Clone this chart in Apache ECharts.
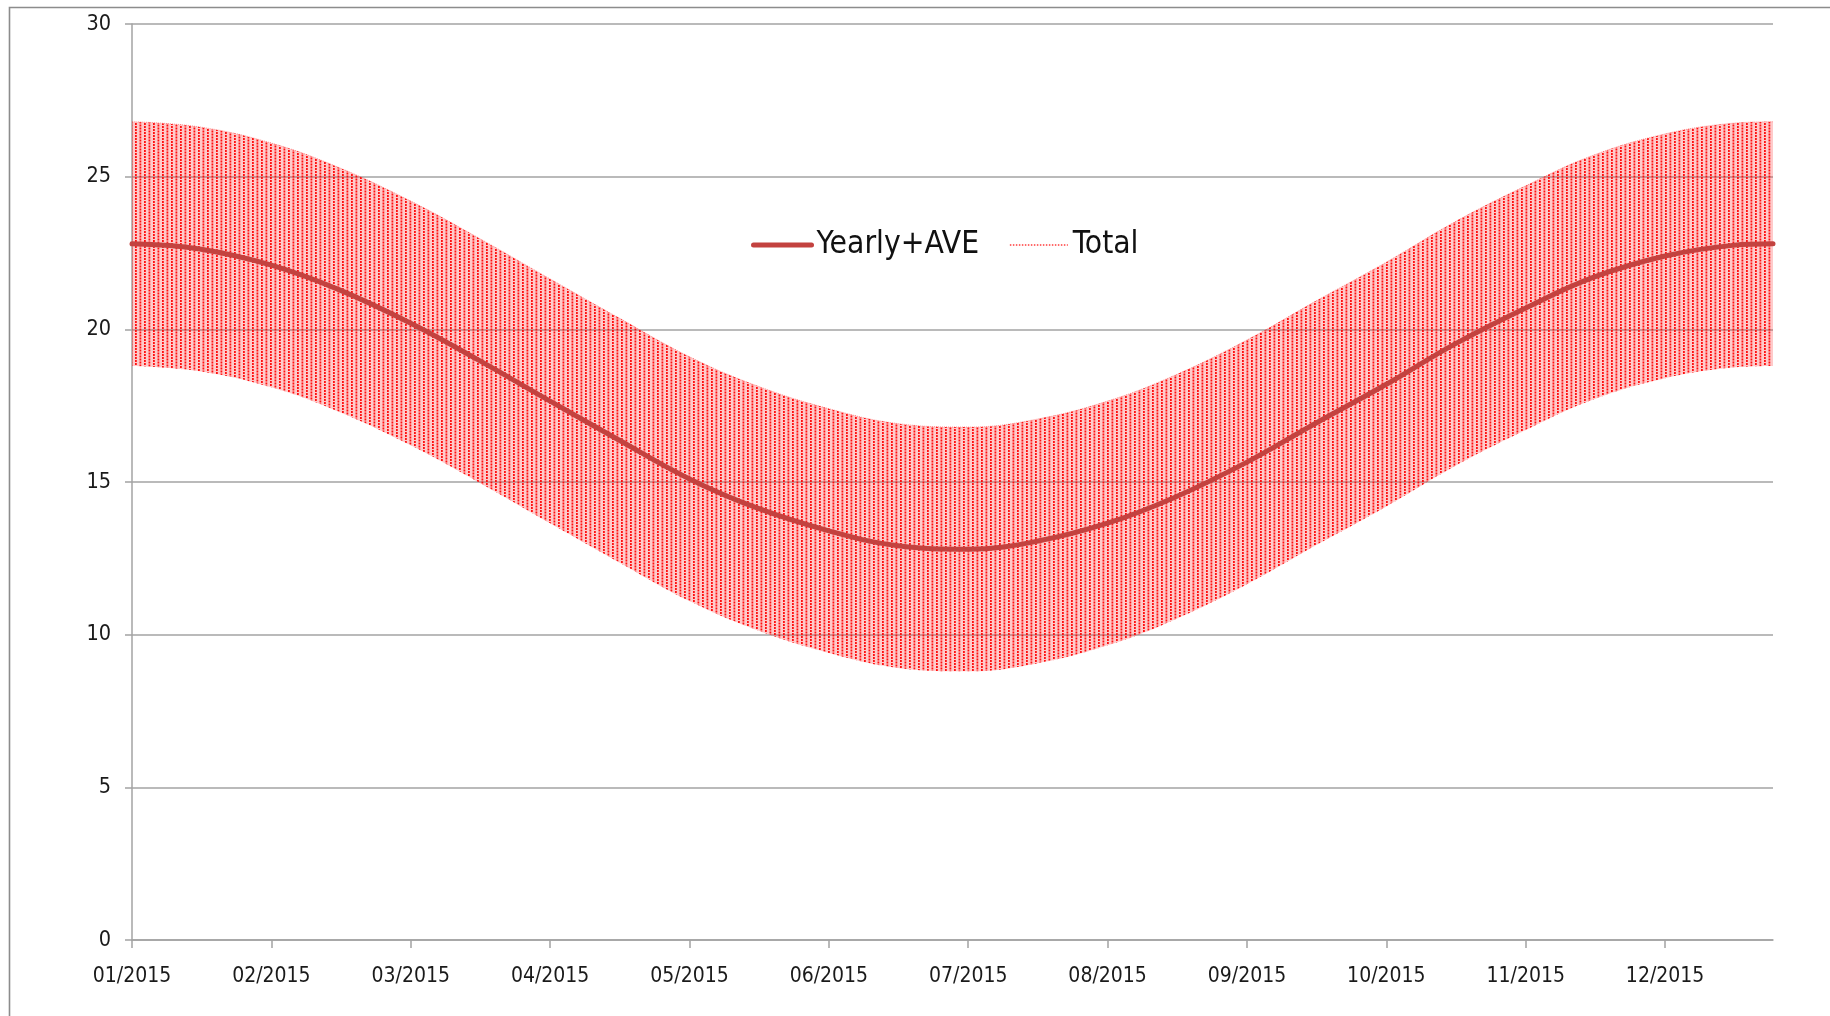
<!DOCTYPE html>
<html>
<head>
<meta charset="utf-8">
<script src="https://cdn.jsdelivr.net/npm/echarts@6/dist/echarts.min.js"></script>
<style>
html,body{margin:0;padding:0;background:#ffffff;}
#chart{width:1830px;height:1016px;}
</style>
</head>
<body>
<div id="chart"></div>
<script>
// ---- data ----
const tickDays = [0, 31, 62, 93, 124, 155, 186, 217, 248, 279, 310, 341];
const tickLabels = ['01/2015', '02/2015', '03/2015', '04/2015', '05/2015', '06/2015',
                    '07/2015', '08/2015', '09/2015', '10/2015', '11/2015', '12/2015'];
const yTicks = [0, 5, 10, 15, 20, 25, 30];

const sampleDays = [0, 15, 31, 46, 62, 77, 93, 108, 124, 139, 155, 170, 186,
                    201, 217, 232, 248, 263, 279, 294, 310, 325, 341, 356, 365];
const yearlyAve  = [22.8, 22.63, 22.1, 21.3, 20.2, 19.0, 17.65, 16.4, 15.1, 14.15, 13.4, 12.92, 12.8,
                    13.05, 13.65, 14.5, 15.65, 16.9, 18.2, 19.5, 20.7, 21.7, 22.4, 22.75, 22.8];
const totalHigh  = [26.8, 26.63, 26.1, 25.3, 24.2, 23.0, 21.65, 20.4, 19.1, 18.15, 17.4, 16.92, 16.8,
                    17.05, 17.65, 18.5, 19.65, 20.9, 22.2, 23.5, 24.7, 25.7, 26.4, 26.75, 26.8];
const totalLow   = [18.8, 18.63, 18.1, 17.3, 16.2, 15.0, 13.65, 12.4, 11.1, 10.15, 9.4, 8.92, 8.8,
                    9.05, 9.65, 10.5, 11.65, 12.9, 14.2, 15.5, 16.7, 17.7, 18.4, 18.75, 18.8];

// ---- styling helpers ----
const FONT = "'Liberation Sans Narrow', 'DejaVu Sans Condensed', 'Liberation Sans', sans-serif";

// texture tile imitating the dense dotted vertical strokes of the "Total" series
const tile = document.createElement('canvas');
tile.width = 9; tile.height = 6;
const g = tile.getContext('2d');
g.fillStyle = 'rgba(255,60,60,0.27)';
g.fillRect(0, 0, 9, 6);
g.fillStyle = 'rgba(255,0,0,0.92)';
g.fillRect(0, 0, 1.8, 2);
g.fillRect(0, 3, 1.8, 2);
g.fillRect(4.5, 1.5, 1.8, 2);
g.fillRect(4.5, 4.5, 1.8, 1.5);
g.fillRect(4.5, 0, 1.8, 0.5);

// value first, day second (encode maps x to the day) so stacking works on the value dimension
const vd = (ys) => sampleDays.map((d, i) => [ys[i], d]);
const bandHeight = totalHigh.map((v, i) => +(v - totalLow[i]).toFixed(3));

const chart = echarts.init(document.getElementById('chart'), null, {renderer: 'canvas'});
chart.setOption({
  animation: false,
  backgroundColor: '#ffffff',
  graphic: [{
    type: 'rect',
    shape: {x: 9.5, y: 7.5, width: 2000, height: 2000},
    style: {fill: 'none', stroke: '#8c8c8c', lineWidth: 1.6},
    silent: true, z: -1
  }],
  grid: {left: 132, right: 57, top: 24, bottom: 76, containLabel: false},
  legend: {
    data: [
      {name: 'Yearly+AVE', lineStyle: {color: '#c3423f', width: 5, cap: 'round', opacity: 1}},
      {name: 'Total', lineStyle: {color: '#ff3b3b', width: 1.5, type: 'dotted', opacity: 1}}
    ],
    left: 746,
    top: 224,
    itemWidth: 58,
    itemHeight: 14,
    itemGap: 30,
    itemStyle: {opacity: 0},
    textStyle: {fontFamily: FONT, fontSize: 31.5, color: '#111111'}
  },
  xAxis: {
    type: 'value',
    min: 0,
    max: 365,
    interval: 31,
    axisLine: {show: true, lineStyle: {color: '#a3a3a3', width: 1.5}},
    axisTick: {show: true, length: 8, customValues: tickDays, lineStyle: {color: '#a3a3a3', width: 1.5}},
    axisLabel: {
      customValues: tickDays,
      margin: 26,
      fontFamily: FONT,
      fontSize: 21,
      color: '#1a1a1a',
      formatter: (v) => { const i = tickDays.indexOf(Math.round(v)); return i >= 0 ? tickLabels[i] : ''; }
    },
    splitLine: {show: false}
  },
  yAxis: {
    type: 'value',
    min: yTicks[0],
    max: yTicks[yTicks.length - 1],
    interval: 5,
    axisLine: {show: true, lineStyle: {color: '#a3a3a3', width: 1.5}},
    axisTick: {show: true, length: 7, lineStyle: {color: '#a3a3a3', width: 1.5}},
    axisLabel: {margin: 21, fontFamily: FONT, fontSize: 21.5, color: '#1a1a1a'},
    splitLine: {show: true, lineStyle: {color: '#a3a3a3', width: 1.5}}
  },
  series: [
    {
      name: 'TotalLow',
      type: 'line',
      stack: 'band',
      data: vd(totalLow),
      encode: {x: 1, y: 0},
      smooth: 0.4,
      symbol: 'none',
      silent: true,
      lineStyle: {opacity: 0, width: 0},
      z: 1
    },
    {
      name: 'Total',
      type: 'line',
      stack: 'band',
      data: vd(bandHeight),
      encode: {x: 1, y: 0},
      smooth: 0.4,
      symbol: 'none',
      silent: true,
      lineStyle: {color: '#ff3b3b', width: 1, type: 'dotted', opacity: 0.5},
      itemStyle: {color: '#ff3b3b'},
      areaStyle: {color: {image: tile, repeat: 'repeat'}, opacity: 1},
      z: 2
    },
    {
      name: 'Yearly+AVE',
      type: 'line',
      data: vd(yearlyAve),
      encode: {x: 1, y: 0},
      smooth: 0.4,
      symbol: 'none',
      silent: true,
      lineStyle: {color: '#c3423f', width: 5, cap: 'round'},
      itemStyle: {color: '#c3423f'},
      z: 3
    }
  ]
});
</script>
</body>
</html>
